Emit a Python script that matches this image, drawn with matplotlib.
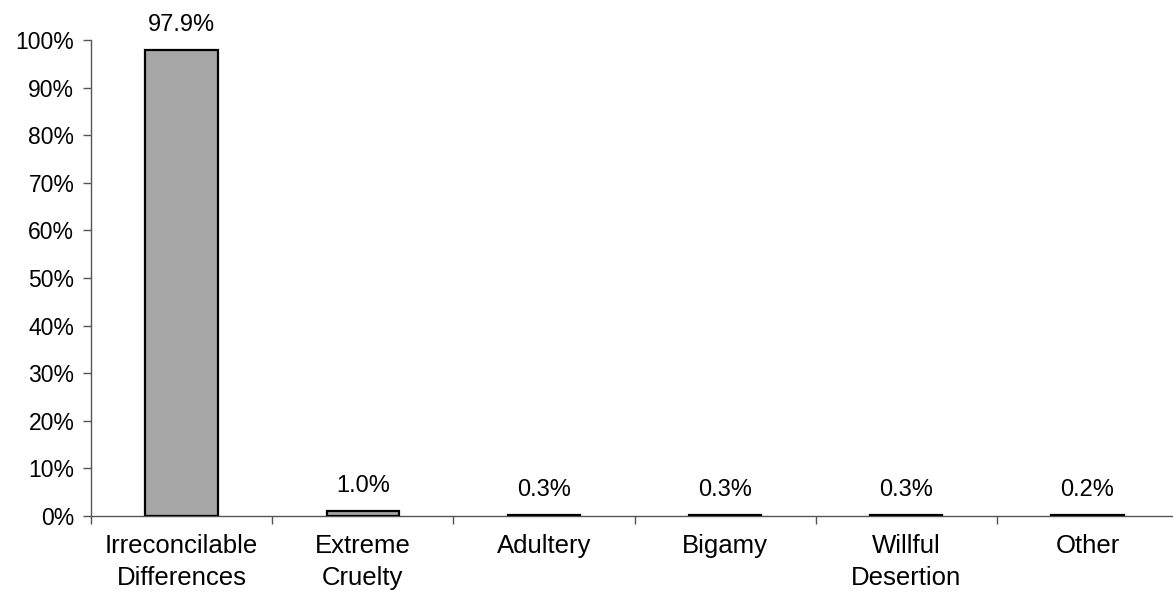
import matplotlib
matplotlib.use("Agg")
import matplotlib.pyplot as plt
from matplotlib.ticker import FixedLocator, FuncFormatter

categories = ["Irreconcilable\nDifferences", "Extreme\nCruelty", "Adultery", "Bigamy", "Willful\nDesertion", "Other"]
values = [97.9, 1.0, 0.3, 0.3, 0.3, 0.2]
value_labels = ["97.9%", "1.0%", "0.3%", "0.3%", "0.3%", "0.2%"]
yticks = [0, 10, 20, 30, 40, 50, 60, 70, 80, 90, 100]

plt.rcParams['font.family'] = ['Liberation Sans', 'DejaVu Sans']

W, H = 1173, 596
fig = plt.figure(figsize=(W / 100, H / 100), dpi=100)
left, right = 91, 1178
top, bottom = 40, 516
ax = fig.add_axes([left / W, 1 - bottom / H, (right - left) / W, (bottom - top) / H])

x = list(range(len(categories)))
ax.bar(x, values, width=0.40, color="#A6A6A6", edgecolor="black", linewidth=1.6, zorder=3)

ax.set_xlim(-0.5, len(categories) - 0.5)
ax.set_ylim(0, 100)
ax.yaxis.set_major_locator(FixedLocator(yticks))
ax.yaxis.set_major_formatter(FuncFormatter(lambda v, p: f"{int(v)}%"))

ax.set_xticks(x)
ax.set_xticklabels(categories)
ax.xaxis.set_minor_locator(FixedLocator([i - 0.5 for i in range(len(categories) + 1)]))
ax.tick_params(axis='x', which='major', length=0, pad=13, labelsize=18.5)
ax.tick_params(axis='x', which='minor', length=6, width=1, color="#555555", direction='out')
ax.tick_params(axis='y', length=6, width=1, color="#555555", direction='out', labelsize=16.5, pad=6)

for lbl in ax.get_xticklabels():
    lbl.set_linespacing(1.4)

for s in ["top", "right"]:
    ax.spines[s].set_visible(False)
for s in ["left", "bottom"]:
    ax.spines[s].set_color("#555555")
    ax.spines[s].set_linewidth(1)

for xi, v, t in zip(x, values, value_labels):
    ax.annotate(t, (xi, v), xytext=(0, 10), textcoords="offset points",
                ha="center", va="bottom", fontsize=17)

fig.savefig("out.png", dpi=100)
